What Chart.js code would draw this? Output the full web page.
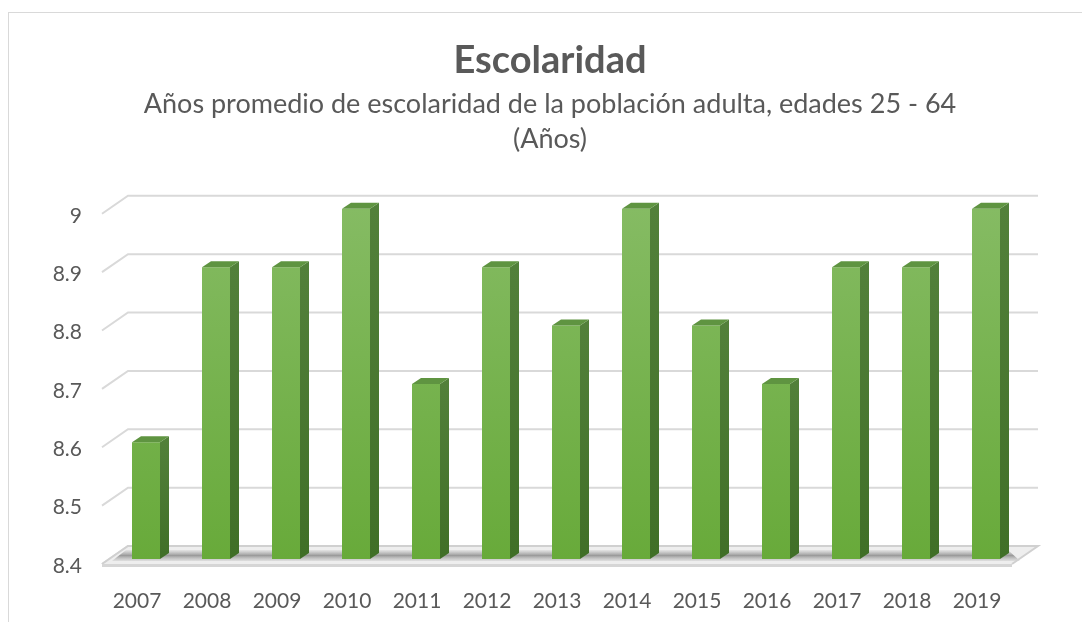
<!DOCTYPE html>
<html>
<head>
<meta charset="utf-8">
<script src="https://cdn.jsdelivr.net/npm/chart.js@4/dist/chart.umd.min.js"></script>
<style>
  body { margin: 0; background: #fff; }
  #frame { position: absolute; left: 8px; top: 12px; width: 1100px; height: 700px; border: 1px solid #d9d9d9; }
  #wrap { position: absolute; left: 0; top: 0; width: 1082px; height: 622px; }
</style>
</head>
<body>
<div id="frame"></div>
<div id="wrap"><canvas id="chart" width="1082" height="622"></canvas></div>
<script>
// data
let years = ["2007", "2008", "2009", "2010", "2011", "2012", "2013",
             "2014", "2015", "2016", "2017", "2018", "2019"];
let schooling = [8.6, 8.9, 8.9, 9.0, 8.7, 8.9, 8.8, 9.0, 8.8, 8.7, 8.9, 8.9, 9.0];
let yMin = 8.4;
let yMax = 9.0;
let yStep = 0.1;

let textColor = "#595959";
let depthX = 9, depthY = 6;         // bar depth
let floorFront = { dx: -9, dy: 5 };  // front plane offset from bars
let floorBack = { dx: 17, dy: -13 }; // back wall offset from bars

// back wall grid lines + floor, drawn before the bars
const wallPlugin = {
    id: "wall",
    beforeDatasetsDraw(chart) {
        let ctx = chart.ctx;
        let area = chart.chartArea;
        let y = chart.scales.y;
        let fl = area.left + floorFront.dx;
        let bl = area.left + floorBack.dx;
        let br = area.right + floorBack.dx;
        let fr = area.right + floorFront.dx;
        ctx.save();
        ctx.strokeStyle = "#d9d9d9";
        ctx.lineWidth = 2;
        y.ticks.forEach(t => {
            let py = y.getPixelForValue(t.value);
            ctx.beginPath();
            ctx.moveTo(fl, py + floorFront.dy);
            ctx.lineTo(bl, py + floorBack.dy);
            ctx.lineTo(br, py + floorBack.dy);
            ctx.stroke();
        });

        // floor
        let base = y.getPixelForValue(yMin);
        let fy = base + floorFront.dy;
        let by = base + floorBack.dy;
        ctx.fillStyle = "#eeeeee";
        ctx.beginPath();
        ctx.moveTo(fl, fy);
        ctx.lineTo(bl, by);
        ctx.lineTo(br, by);
        ctx.lineTo(fr, fy);
        ctx.closePath();
        ctx.fill();
        // shadow band under bars
        let g = ctx.createLinearGradient(0, by + 3, 0, fy - 2);
        g.addColorStop(0, "rgba(130,130,130,0)");
        g.addColorStop(0.5, "rgba(100,100,100,0.6)");
        g.addColorStop(1, "rgba(160,160,160,0.1)");
        ctx.fillStyle = g;
        ctx.beginPath();
        ctx.moveTo(fl + 10, fy - 3);
        ctx.lineTo(bl - 2, by + 4);
        ctx.lineTo(br - 30, by + 4);
        ctx.lineTo(fr + 8, fy - 3);
        ctx.closePath();
        ctx.fill();
        ctx.strokeStyle = "#d0d0d0";
        ctx.lineWidth = 2;
        ctx.beginPath();
        ctx.moveTo(fl, fy);
        ctx.lineTo(bl, by);
        ctx.lineTo(br, by);
        ctx.lineTo(fr, fy);
        ctx.stroke();
        // front edge of the slab
        ctx.strokeStyle = "#d6d6d6";
        ctx.lineWidth = 3;
        ctx.beginPath();
        ctx.moveTo(fl, fy + 1.5);
        ctx.lineTo(fr, fy + 1.5);
        ctx.stroke();
        ctx.restore();
    }
};

// side and top faces of the bars
const boxPlugin = {
    id: "box",
    afterDatasetsDraw(chart) {
        let ctx = chart.ctx;
        let area = chart.chartArea;
        let meta = chart.getDatasetMeta(0);
        ctx.save();
        meta.data.forEach(bar => {
            let p = bar.getProps(["x", "y", "base", "width"], true);
            let bottom = Math.min(p.base, area.bottom);
            let l = p.x - p.width / 2;
            let r = p.x + p.width / 2;
            let side = ctx.createLinearGradient(0, p.y, 0, bottom);
            side.addColorStop(0, "#52803a");
            side.addColorStop(1, "#406f27");
            ctx.fillStyle = side;
            ctx.beginPath();
            ctx.moveTo(r, p.y);
            ctx.lineTo(r + depthX, p.y - depthY);
            ctx.lineTo(r + depthX, bottom - depthY);
            ctx.lineTo(r, bottom);
            ctx.closePath();
            ctx.fill();
            ctx.fillStyle = "#5f9441";
            ctx.beginPath();
            ctx.moveTo(l, p.y);
            ctx.lineTo(l + depthX, p.y - depthY);
            ctx.lineTo(r + depthX, p.y - depthY);
            ctx.lineTo(r, p.y);
            ctx.closePath();
            ctx.fill();
        });
        ctx.restore();
    }
};

function frontGradient(context) {
    let area = context.chart.chartArea;
    if (!area) return "#6fae44";
    let g = context.chart.ctx.createLinearGradient(0, area.top, 0, area.bottom);
    g.addColorStop(0, "#85bb63");
    g.addColorStop(1, "#68aa3a");
    return g;
}

new Chart(document.getElementById("chart"), {
    type: "bar",
    data: {
        labels: years,
        datasets: [{
            label: "Escolaridad",
            data: schooling,
            backgroundColor: frontGradient,
            borderWidth: 0,
            barPercentage: 0.4,
            categoryPercentage: 1.0
        }]
    },
    options: {
        responsive: false,
        animation: false,
        layout: { padding: { left: 18, right: 0, top: 0, bottom: 0 } },
        plugins: {
            legend: { display: false },
            tooltip: { enabled: false },
            title: {
                display: true,
                text: "Escolaridad",
                color: textColor,
                font: { family: "Lato", size: 38, weight: "bold", lineHeight: 1.2 },
                padding: { top: 38, bottom: 3 }
            },
            subtitle: {
                display: true,
                text: ["Años promedio de escolaridad de la población adulta, edades 25 - 64", "(Años)"],
                color: textColor,
                font: { family: "Lato", size: 27, lineHeight: 1.3 },
                padding: { top: 0, bottom: 52 }
            }
        },
        scales: {
            x: {
                grid: { display: false },
                border: { display: false },
                ticks: {
                    color: textColor,
                    font: { family: "Lato", size: 21 },
                    labelOffset: -9,
                    padding: 22,
                    maxRotation: 0
                },
                afterFit(scale) { scale.height = 63; }
            },
            y: {
                min: yMin,
                max: yMax,
                grid: { display: false, drawTicks: false },
                border: { display: false },
                ticks: {
                    stepSize: yStep,
                    color: textColor,
                    font: { family: "Lato", size: 21 },
                    padding: 29,
                    labelOffset: 7,
                    callback: v => String(Math.round(v * 10) / 10)
                },
                afterFit(scale) { scale.width = 93; }
            },
            yRight: {
                position: "right",
                display: true,
                grid: { display: false, drawTicks: false },
                border: { display: false },
                ticks: { display: false },
                afterFit(scale) { scale.width = 61; }
            }
        }
    },
    plugins: [wallPlugin, boxPlugin]
});
</script>
</body>
</html>
